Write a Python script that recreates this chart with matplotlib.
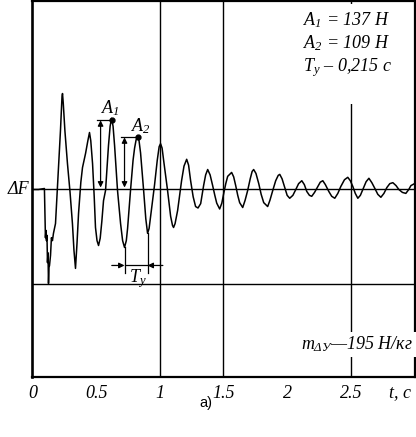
import numpy as np
import matplotlib
matplotlib.use("Agg")
import matplotlib.pyplot as plt
import matplotlib.transforms as mtransforms

plt.rcParams["font.family"] = "Liberation Serif"
plt.rcParams["font.style"] = "italic"
plt.rcParams["font.size"] = 13
plt.rcParams["mathtext.fontset"] = "custom"
plt.rcParams["mathtext.it"] = "Liberation Serif:italic"
plt.rcParams["mathtext.rm"] = "Liberation Serif:italic"

# oscillogram of dF(t): time [s], force [N]
t = [0.000, 0.047, 0.094, 0.102, 0.106, 0.110, 0.114, 0.118, 0.122, 0.126,
     0.130, 0.134, 0.142, 0.149, 0.157, 0.165, 0.181, 0.196, 0.210, 0.220,
     0.232, 0.236, 0.242, 0.255, 0.275, 0.295, 0.314, 0.326, 0.338, 0.350,
     0.362, 0.380, 0.393, 0.417, 0.435, 0.448, 0.458, 0.472, 0.485, 0.495,
     0.507, 0.519, 0.532, 0.545, 0.558, 0.574, 0.597, 0.610, 0.621, 0.633,
     0.645, 0.668, 0.692, 0.708, 0.723, 0.737, 0.747, 0.770, 0.790, 0.802,
     0.814, 0.825, 0.837, 0.849, 0.873, 0.890, 0.904, 0.916, 0.928, 0.959,
     0.980, 0.995, 1.006, 1.018, 1.030, 1.061, 1.085, 1.100, 1.108, 1.120,
     1.140, 1.171, 1.190, 1.211, 1.226, 1.242, 1.262, 1.281, 1.300, 1.321,
     1.344, 1.360, 1.376, 1.395, 1.415, 1.432, 1.447, 1.470, 1.487, 1.502,
     1.518, 1.533, 1.564, 1.580, 1.596, 1.612, 1.627, 1.651, 1.670, 1.690,
     1.710, 1.725, 1.737, 1.755, 1.777, 1.796, 1.816, 1.847, 1.865, 1.887,
     1.910, 1.930, 1.942, 1.960, 1.981, 2.000, 2.020, 2.045, 2.068, 2.090,
     2.115, 2.135, 2.154, 2.175, 2.193, 2.215, 2.241, 2.260, 2.280, 2.300,
     2.327, 2.350, 2.374, 2.398, 2.421, 2.450, 2.476, 2.496, 2.516, 2.535,
     2.555, 2.575, 2.594, 2.620, 2.642, 2.665, 2.689, 2.712, 2.736, 2.760,
     2.783, 2.806, 2.830, 2.855, 2.877, 2.905, 2.932, 2.955, 2.972, 3.000]
dF = [0, 0, 2, -99, -84, -105, -94, -150, -130, -193,
      -160, -156, -135, -99, -105, -90, -70, 2, 70, 121,
      190, 197, 177, 120, 53, -5, -70, -125, -162, -110,
      -49, 15, 45, 74, 100, 117, 100, 53, -15, -78,
      -105, -115, -100, -65, -23, -2, 90, 130, 146, 130,
      90, -2, -70, -105, -119, -105, -80, -2, 60, 85,
      102, 107, 100, 75, -2, -60, -90, -80, -55, 10,
      60, 88, 94, 85, 60, -2, -55, -74, -78, -70,
      -43, 18, 48, 62, 50, 18, -15, -35, -38, -29,
      8, 30, 41, 30, 8, -12, -28, -40, -28, -8,
      12, 27, 35, 26, 8, -12, -27, -37, -22, -2,
      22, 37, 41, 33, 12, -10, -27, -35, -22, -2,
      18, 29, 31, 22, 4, -12, -18, -12, 0, 12,
      18, 10, -4, -12, -14, -6, 6, 15, 18, 10,
      -4, -14, -18, -8, 6, 20, 25, 18, 6, -8,
      -18, -12, 0, 16, 23, 14, 2, -10, -16, -8,
      4, 12, 14, 8, 0, -6, -8, 0, 8, 12]

grid_t = [1, 1.5, 2.5]
grid_f = [0, -195]
ticks = [0, 0.5, 1, 1.5, 2, 2.5]
tick_labels = ["0", "0.5", "1", "1.5", "2", "2.5"]

# amplitudes A1, A2 and period Ty
a1_t, a1_f = 0.621, 142
a2_t, a2_f = 0.825, 107
a1_arrow_t = 0.535
a2_arrow_t = 0.723
ty_left, ty_right = 0.723, 0.904
ty_level = -156

fig = plt.figure(figsize=(4.16, 4.37), dpi=100)
ax = fig.add_axes([0.078, 0.1384, 0.9184, 0.8582])

for g in grid_t:
    ax.axvline(g, color="k", lw=1.0, zorder=1)
for g in grid_f:
    ax.axhline(g, color="k", lw=1.0, zorder=1)

ax.plot(t, dF, color="k", lw=1.1, zorder=3)

ax.set_xlim(0, 3)
ax.set_ylim(-384, 386)
ax.set_yticks([])
ax.set_xticks(ticks)
ax.set_xticklabels(tick_labels)
ax.tick_params(axis="x", length=0, pad=6, labelsize=13)
for s in ax.spines.values():
    s.set_linewidth(1.6)
ax.spines["left"].set_linewidth(1.9)

arrow = dict(arrowstyle="<|-|>", color="k", lw=0.9, mutation_scale=8,
             shrinkA=0, shrinkB=0)
one_way = dict(arrowstyle="-|>", color="k", lw=0.9, mutation_scale=8,
               shrinkA=0, shrinkB=0)

# A1
ax.annotate("", xy=(a1_arrow_t, a1_f), xytext=(a1_arrow_t, 4), arrowprops=arrow)
ax.plot([a1_arrow_t - 0.03, a1_t + 0.01], [a1_f, a1_f], color="k", lw=0.9)
ax.plot(a1_t, a1_f, "ko", ms=3.5)
ax.text(a1_t - 0.01, a1_f + 26, "$A_1$", ha="center", va="center", fontsize=13)

# A2
ax.annotate("", xy=(a2_arrow_t, a2_f), xytext=(a2_arrow_t, 4), arrowprops=arrow)
ax.plot([a2_arrow_t - 0.025, a2_t + 0.01], [a2_f, a2_f], color="k", lw=0.9)
ax.plot(a2_t, a2_f, "ko", ms=3.5)
ax.text(a2_t + 0.03, a2_f + 24, "$A_2$", ha="center", va="center", fontsize=13)

# Ty
ax.plot([ty_left, ty_left], [-119, -172], color="k", lw=0.9)
ax.plot([ty_right, ty_right], [-90, -172], color="k", lw=0.9)
ax.annotate("", xy=(ty_left, ty_level), xytext=(ty_left - 0.1, ty_level), arrowprops=one_way)
ax.annotate("", xy=(ty_right, ty_level), xytext=(ty_right + 0.12, ty_level), arrowprops=one_way)
ax.plot([ty_left, ty_right], [ty_level, ty_level], color="k", lw=0.9)
ax.text(0.83, -182, "$T_у$", ha="center", va="center", fontsize=13)

# dF label at the zero line
ax.text(-0.022, 0, "ΔF", ha="right", va="center", fontsize=13, clip_on=False)

# parameters box
ax.text(2.122, 368, "$A_1$ = 137 Н\n$A_2$ = 109 Н\n$T_у$ – 0,215 с\n ",
        ha="left", va="top", fontsize=13, linespacing=1.2,
        bbox=dict(facecolor="white", edgecolor="none", pad=4), zorder=4)
ax.text(2.99, -318, "$m_{ΔУ}$—195 Н/кг", ha="right", va="center", fontsize=13,
        bbox=dict(facecolor="white", edgecolor="none", pad=2), zorder=4)

# axis caption placed in the tick label row
trans = mtransforms.blended_transform_factory(ax.transData, ax.transAxes)
ax.text(2.89, -0.042, "t, с", transform=trans, ha="center", va="center", fontsize=13)

fig.text(0.495, 0.078, "а)", ha="center", va="center", fontsize=10.5,
         family="Liberation Sans", style="normal")

fig.savefig("out.png", dpi=100)
